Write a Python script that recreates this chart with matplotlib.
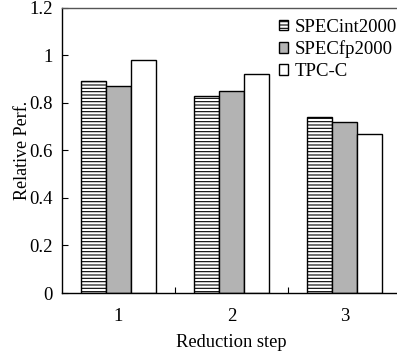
import matplotlib
matplotlib.use("Agg")
import matplotlib.pyplot as plt
import numpy as np

categories = ["1", "2", "3"]
series_names = ["SPECint2000", "SPECfp2000", "TPC-C"]
specint = [0.89, 0.83, 0.74]
specfp = [0.87, 0.85, 0.72]
tpcc = [0.98, 0.92, 0.67]
yticks = [0, 0.2, 0.4, 0.6, 0.8, 1, 1.2]
ytick_labels = ["0", "0.2", "0.4", "0.6", "0.8", "1", "1.2"]

plt.rcParams['font.family'] = ['Liberation Serif', 'DejaVu Serif']
plt.rcParams['hatch.linewidth'] = 0.8

fig = plt.figure(figsize=(3.97, 3.58), dpi=100)
ax = fig.add_axes([62/397, 65/358, (401-62)/397, (293-7.5)/358])

x = np.arange(1, len(categories) + 1)
w = 0.222
styles = [
    dict(facecolor='white', hatch='-----'),
    dict(facecolor='#b3b3b3', hatch=None),
    dict(facecolor='white', hatch=None),
]
for i, (vals, name, st) in enumerate(zip([specint, specfp, tpcc], series_names, styles)):
    ax.bar(x + (i - 1) * w, vals, width=w, edgecolor='black', linewidth=1.0,
           label=name, **st)

ax.set_xlim(0.5, 3.5)
ax.set_ylim(0, 1.2)
ax.set_yticks(yticks)
ax.set_yticklabels(ytick_labels, fontsize=13.5)
ax.tick_params(axis='y', direction='in', length=4, pad=6.5)
ax.set_xticks([1.5, 2.5])
ax.set_xticklabels(["", ""])
ax.set_xticks(x, minor=True)
ax.set_xticklabels(categories, minor=True, fontsize=13.5)
ax.tick_params(axis='x', which='major', direction='in', length=4)
ax.tick_params(axis='x', which='minor', length=0, pad=11)
ax.spines['right'].set_visible(False)
for s in ['left', 'bottom', 'top']:
    ax.spines[s].set_linewidth(1.0)
ax.spines['top'].set_color('#555555')

ax.set_ylabel("Relative Perf.", fontsize=13)
ax.yaxis.set_label_coords(-0.092, 0.5)
ax.set_xlabel("Reduction step", fontsize=13.3, labelpad=6)

leg = ax.legend(loc='upper right', bbox_to_anchor=(1.022, 1.0), frameon=False,
                fontsize=13.5, handlelength=0.5, handleheight=0.5,
                handletextpad=0.35, labelspacing=0.25, borderaxespad=0.2)

fig.savefig("out.png", dpi=100)
